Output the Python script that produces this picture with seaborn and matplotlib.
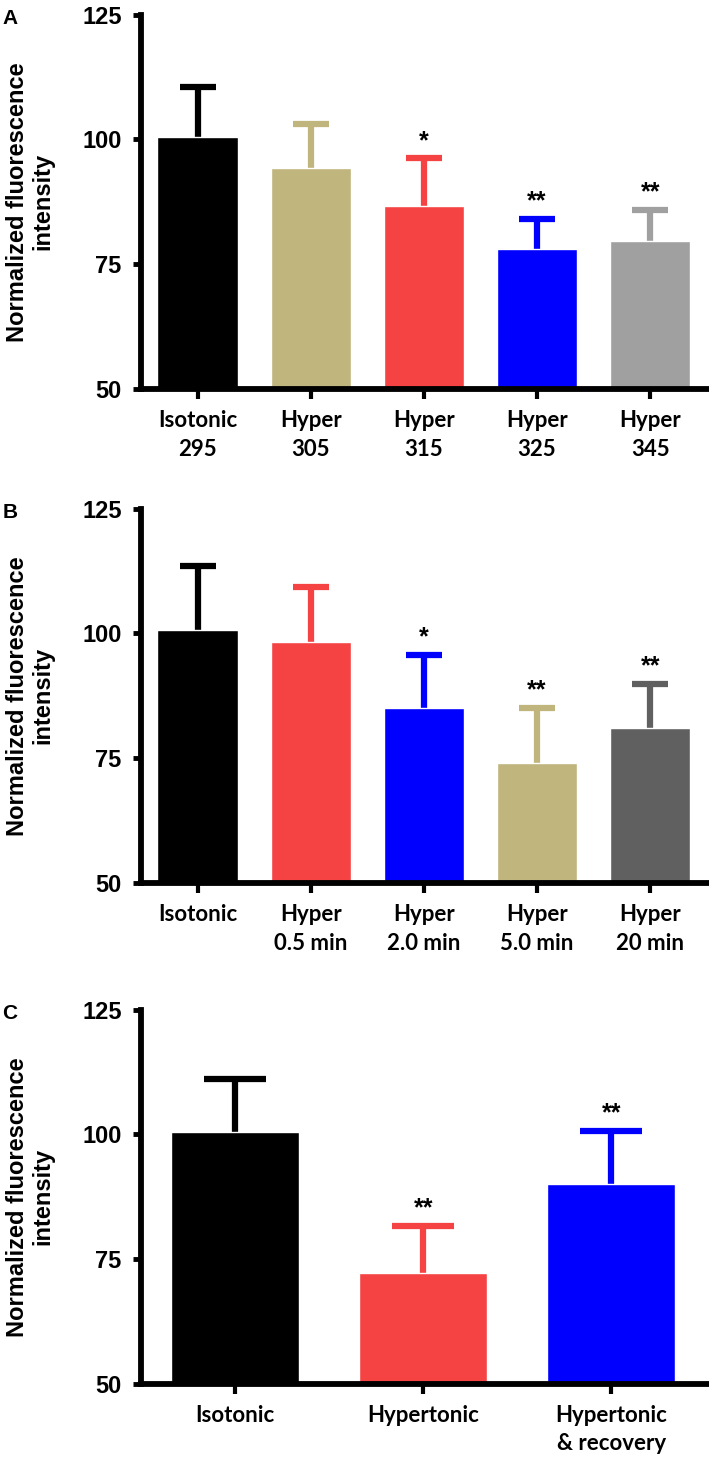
import numpy as np
import pandas as pd
import seaborn as sns
import matplotlib.pyplot as plt

# Panel A - osmolality series
a_labels = ["Isotonic\n295", "Hyper\n305", "Hyper\n315", "Hyper\n325", "Hyper\n345"]
a_means = [100.5, 94.2, 86.7, 78.0, 79.7]
a_sem = [10.1, 8.8, 9.5, 6.0, 6.2]
a_stars = ["", "", "*", "**", "**"]
a_colors = ["#000000", "#BFB57D", "#F54343", "#0000FF", "#A0A0A0"]

# Panel B - time series
b_labels = ["Isotonic", "Hyper\n0.5 min", "Hyper\n2.0 min", "Hyper\n5.0 min", "Hyper\n20 min"]
b_means = [100.6, 98.3, 85.0, 74.1, 81.1]
b_sem = [12.9, 11.0, 10.7, 11.0, 8.7]
b_stars = ["", "", "*", "**", "**"]
b_colors = ["#000000", "#F54343", "#0000FF", "#BFB57D", "#606060"]

# Panel C - recovery
c_labels = ["Isotonic", "Hypertonic", "Hypertonic\n& recovery"]
c_means = [100.4, 72.2, 90.0]
c_sem = [10.7, 9.4, 10.7]
c_stars = ["", "**", "**"]
c_colors = ["#000000", "#F54343", "#0000FF"]

sns.set_style("ticks", {"axes.edgecolor": "black", "xtick.color": "black",
                        "ytick.color": "black", "text.color": "black",
                        "axes.labelcolor": "black"})
plt.rcParams['font.family'] = ['Liberation Sans', 'DejaVu Sans']

fig = plt.figure(figsize=(7.09, 14.61), dpi=100)

panels = [
    ("A", a_labels, a_means, a_sem, a_stars, a_colors, 0.7337, 0.71, 13),
    ("B", b_labels, b_means, b_sem, b_stars, b_colors, 0.3956, 0.71, 13),
    ("C", c_labels, c_means, c_sem, c_stars, c_colors, 0.0527, 0.68, 22),
]

for letter, labels, means, sem, stars, colors, bottom, width, cap in panels:
    ax = fig.add_axes([0.199, bottom, 0.801, 0.2563])
    df = pd.DataFrame({"group": labels, "value": means})
    sns.barplot(data=df, x="group", y="value", hue="group", palette=colors,
                legend=False, width=width, saturation=1, ax=ax, zorder=2)
    for i in range(len(labels)):
        eb = ax.errorbar(i, means[i], yerr=[[0], [sem[i]]], color=colors[i],
                         elinewidth=4.5, capsize=cap, capthick=4.5, zorder=1)
        eb[1][0].set_visible(False)  # hide the lower cap
        if stars[i]:
            ax.annotate(stars[i], (i, means[i] + sem[i]), xytext=(0, 4),
                        textcoords="offset points", ha="center", va="bottom",
                        fontsize=18, fontweight="bold")
    ax.set_ylim(50, 125)
    ax.set_yticks([50, 75, 100, 125])
    ax.set_xlim(-0.5, len(labels) - 0.48)
    ax.set_xlabel("")
    ax.set_ylabel("Normalized fluorescence\nintensity", fontsize=17,
                  fontweight="bold", linespacing=1.15)
    ax.yaxis.set_label_coords(-0.152, 0.5)
    sns.despine(ax=ax)
    for s in ["left", "bottom"]:
        ax.spines[s].set_linewidth(4.2)
    ax.tick_params(axis="y", length=6, width=3.5, labelsize=17, pad=8)
    ax.tick_params(axis="x", length=7, width=3, pad=8)
    for t in ax.get_yticklabels():
        t.set_fontweight("bold")
    for t in ax.get_xticklabels():
        t.set_fontfamily(["Lato", "DejaVu Sans"])
        t.set_fontweight("bold")
        t.set_fontsize(16)
        t.set_linespacing(1.45)
    fig.text(0.003, bottom + 0.2563 + 0.004, letter, fontsize=15,
             fontweight="bold", va="top", ha="left")

fig.savefig("out.png", dpi=100)
